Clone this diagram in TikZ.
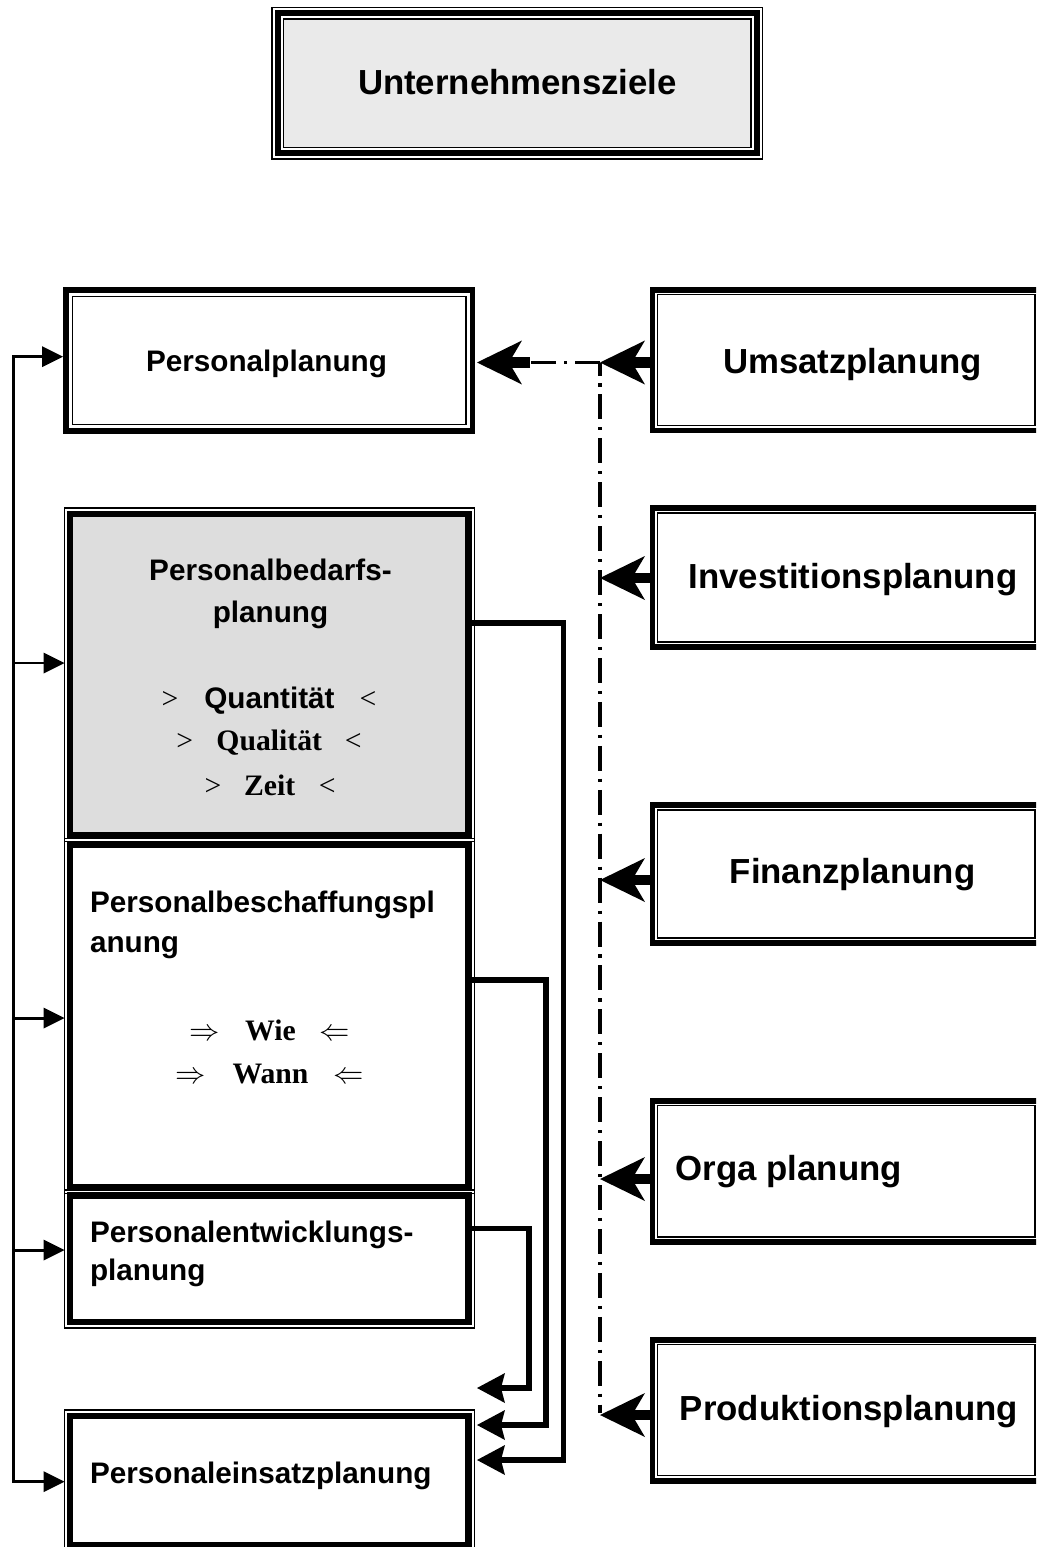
\documentclass[tikz,border=0pt]{standalone}
\usepackage{fontspec}
\setmainfont{Liberation Sans}
\newfontfamily\serifT{Liberation Serif}
\usetikzlibrary{arrows.meta,calc,fit}
\newcommand\fsL{\fontsize{16.9pt}{20pt}\selectfont\bfseries}
\newcommand\fsR{\fontsize{19.8pt}{24pt}\selectfont\bfseries}
\definecolor{titlegray}{HTML}{EAEAEA}
\definecolor{bedarfgray}{HTML}{DDDDDD}
\tikzset{
  every node/.style={inner sep=0pt, outer sep=0pt},
  thickbox/.style={rectangle, draw, line width=3.4pt, inner sep=0pt, outer sep=0pt},
  leftbox/.style={rectangle, draw, line width=3.5pt, fill=white, inner sep=0pt, outer sep=0pt},
  thinline/.style={line width=0.9pt},
  txtL/.style={font=\fsL, anchor=base},
  txtLw/.style={font=\fsL, anchor=base west},
  txtR/.style={font=\fsR, anchor=base},
  txtRw/.style={font=\fsR, anchor=base west},
  bigarr/.style={line width=5.7pt, -{Stealth[length=0.9cm, width=0.88cm, inset=0.26cm, line width=0pt]}},
  smallarr/.style={line width=1.7pt, -{Triangle[length=0.42cm, width=0.42cm, line width=0pt]}},
  fbarr/.style={line width=3pt, line join=miter, -{Stealth[length=0.56cm, width=0.6cm, inset=0.08cm, line width=0pt]}},
  dashdot/.style={line width=1.8pt, dash pattern=on 14.2pt off 4.5pt on 1.8pt off 4.5pt}
}
\begin{document}
\begin{tikzpicture}[x=0.02cm, y=-0.02cm]
\path[use as bounding box] (0,0) rectangle (1036,1547);
\clip (0,0) rectangle (1036,1547);

% ---------- title ----------
\node[fit={(283.5,19) (751,147.5)}, rectangle, draw, line width=1pt, fill=titlegray] (title) {};
\draw[line width=3.3pt] ([shift={(-5.8,-5.8)}]title.north west) rectangle ([shift={(5.8,5.8)}]title.south east);
\draw[line width=1pt] ([shift={(-11.5,-11.5)}]title.north west) rectangle ([shift={(11.5,11.5)}]title.south east);
\node[txtR] (titleT) at (517.5,95) {Unternehmensziele};

% ---------- right column ----------
\node[thickbox, fit={(66,290) (472.5,431)}] (pp) {};
\node[thickbox, fit={(652.5,289.7) (1040,430.5)}] (umsatz) {};
\node[thickbox, fit={(652.5,508) (1040,647)}] (inv) {};
\node[thickbox, fit={(652.5,805) (1040,943)}] (fin) {};
\node[thickbox, fit={(652.5,1100.5) (1040,1242)}] (orga) {};
\node[thickbox, fit={(652.5,1339.5) (1040,1480.5)}] (prod) {};
\foreach \n/\d in {pp/6.5, umsatz/5, inv/5, fin/5, orga/5, prod/5}
  \draw[thinline] ([shift={(\d,\d)}]\n.north west) rectangle ([shift={(-\d,-\d)}]\n.south east);

% ---------- left column ----------
\node[leftbox, fill=bedarfgray, fit={(70.3,513.7) (468.5,835.5)}] (bedarf) {};
\node[leftbox, fit={(70.3,844.5) (468.5,1187.5)}] (besch) {};
\node[leftbox, fit={(70.3,1195.5) (468.5,1322)}] (entw) {};
\node[leftbox, fit={(70.3,1416) (468.5,1545.5)}] (einsatz) {};
\foreach \n in {bedarf, besch, entw, einsatz}
  \draw[thinline] ([shift={(-5.8,-5.8)}]\n.north west) rectangle ([shift={(5.8,5.8)}]\n.south east);

% ---------- texts ----------
\node[txtL] (ppT) at (266.5,371) {Personalplanung};
\node[txtR] (umsatzT) at (852.5,373) {Umsatzplanung};
\node[txtR] (invT) at (853,588.5) {Investitionsplanung};
\node[txtR] (finT) at (852.5,883) {Finanzplanung};
\node[txtRw] (orgaT) at (675.7,1180) {Orga planung};
\node[txtR] (prodT) at (849,1420) {Produktionsplanung};

\node[txtL] (bedarfT1) at (270.5,580) {Personalbedarfs-};
\node[txtL] (bedarfT2) at (270.5,622) {planung};
\node[txtL] (quant) at (269,708) {{\serifT\mdseries >}\hspace{14.7pt}Quantität\hspace{14.2pt}{\serifT\mdseries <}};
\node[txtL] (qual) at (269,750) {{\serifT\mdseries >}\hspace{13.3pt}{\serifT Qualität}\hspace{13pt}{\serifT\mdseries <}};
\node[txtL] (zeit) at (270,795) {{\serifT\mdseries >}\hspace{13pt}{\serifT Zeit}\hspace{13.4pt}{\serifT\mdseries <}};

\node[txtLw] (beschT1) at (90,912) {Personalbeschaffungspl};
\node[txtLw] (beschT2) at (90,952) {anung};
\node[txtL] (wie) at (270,1040) {$\Rightarrow$\hspace{14.2pt}{\serifT Wie}\hspace{13.6pt}$\Leftarrow$};
\node[txtL] (wann) at (269.5,1083) {$\Rightarrow$\hspace{15.3pt}{\serifT Wann}\hspace{14.2pt}$\Leftarrow$};

\node[txtLw] (entwT1) at (90,1242) {Personalentwicklungs-};
\node[txtLw] (entwT2) at (90,1280) {planung};
\node[txtLw] (einsatzT) at (90,1483) {Personaleinsatzplanung};

% ---------- dash-dot collector ----------
\coordinate (J) at (600,362.5);
\coordinate (K) at (530,362.5);
\draw[dashdot, dash phase=6.8pt] (J) -- (J |- 0,1413);
\draw[dashdot] (J) -- (K);
\draw[bigarr] (K) -- ($(pp.east |- K)+(4.5,0)$);
\draw[bigarr] (umsatz.west |- J) -- (J);
\draw[bigarr] (inv.west |- 0,578) -- (J |- 0,578);
\draw[bigarr] (fin.west |- 0,880) -- (J |- 0,880);
\draw[bigarr] (orga.west |- 0,1179) -- (J |- 0,1179);
\draw[bigarr] (prod.west |- 0,1415) -- (J |- 0,1415);

% ---------- left feedback ----------
\coordinate (L0) at (13.4,356.7);
\coordinate (L1) at (13.4,663);
\coordinate (L2) at (13.4,1018);
\coordinate (L3) at (13.4,1250);
\coordinate (L4) at (13.4,1481.7);
\draw[line width=1.7pt, line cap=rect] (L0) -- (L4);
\draw[smallarr] (L0) -- ($(pp.west |- L0)+(-3,0)$);
\draw[smallarr] (L1) -- ($(bedarf.west |- L1)+(-5.8,0)$);
\draw[smallarr] (L2) -- ($(besch.west |- L2)+(-5.8,0)$);
\draw[smallarr] (L3) -- ($(entw.west |- L3)+(-5.8,0)$);
\draw[smallarr] (L4) -- ($(einsatz.west |- L4)+(-5.8,0)$);

% ---------- right feedback to Personaleinsatzplanung ----------
\draw[fbarr] (bedarf.east |- 0,623) -- (563.5,623) -- (563.5,1460) -- ($(einsatz.east |- 0,1460)+(8.5,0)$);
\draw[fbarr] (besch.east |- 0,980) -- (546,980) -- (546,1425) -- ($(einsatz.east |- 0,1425)+(8.5,0)$);
\draw[fbarr] (entw.east |- 0,1228.5) -- (529,1228.5) -- (529,1388) -- ($(einsatz.east |- 0,1388)+(8.5,0)$);
\end{tikzpicture}
\end{document}
